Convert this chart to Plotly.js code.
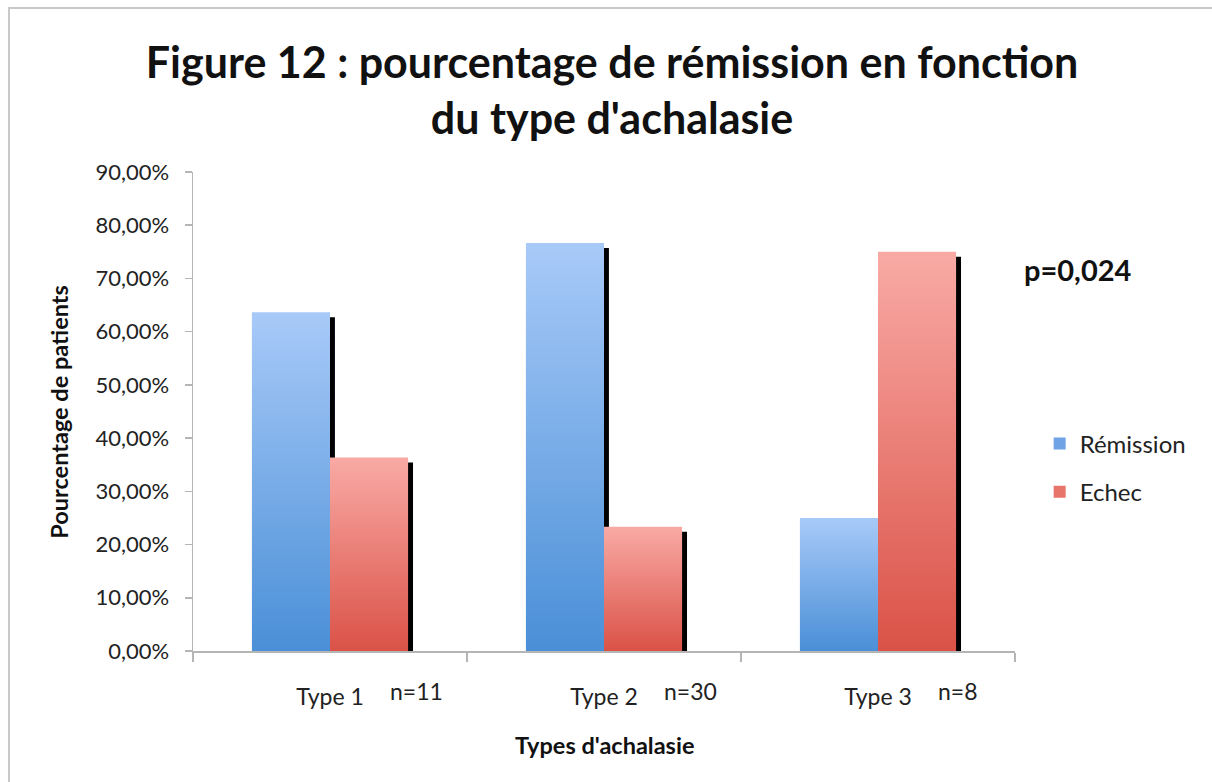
<!DOCTYPE html>
<html>
<head>
<meta charset="utf-8">
<script src="https://cdn.plot.ly/plotly-3.0.1.min.js"></script>
<style>
  html, body { margin: 0; padding: 0; background: #fff; }
  #wrap { position: relative; width: 1212px; height: 782px; overflow: hidden; }
  #chart { position: absolute; left: 0; top: 0; width: 1212px; height: 782px; }
  .bline { position: absolute; background: #c9c9c9; }
</style>
</head>
<body>
<div id="wrap">
  <div id="chart"></div>
  <div class="bline" style="left:8px; top:7px; width:1204px; height:2px;"></div>
  <div class="bline" style="left:8px; top:7px; width:2px; height:775px;"></div>
</div>
<script>
// ---- data ----
const categories = ["Type 1", "Type 2", "Type 3"];
const nLabels = ["n=11", "n=30", "n=8"];
const remission = [63.64, 76.67, 25.0];
const echec = [36.36, 23.33, 75.0];
const seriesNames = ["Rémission", "Echec"];
const yTickVals = [0, 10, 20, 30, 40, 50, 60, 70, 80, 90];
const yTickText = ["0,00%", "10,00%", "20,00%", "30,00%", "40,00%", "50,00%", "60,00%", "70,00%", "80,00%", "90,00%"];
const pValueText = "p=0,024";

// ---- style ----
const FONT = "Lato, 'Open Sans', sans-serif";
const BAR_W = 0.285;        // width of one bar in category units
const SH_DX = 0.018;        // shadow shift right (category units)
const SH_DY = 0.94;         // shadow shift down (percent units)

function shadow(vals, offset) {
  return {
    type: "bar", x: categories, y: vals, base: vals.map(() => -SH_DY),
    width: BAR_W, offset: offset + SH_DX,
    marker: { color: "#000000", line: { width: 0 } },
    showlegend: false, hoverinfo: "skip"
  };
}

const traces = [
  shadow(remission, -BAR_W),
  shadow(echec, 0),
  {
    type: "bar", name: seriesNames[0], x: categories, y: remission,
    width: BAR_W, offset: -BAR_W, legendgroup: "a",
    marker: { color: "#6fa3e6", line: { width: 0 } }
  },
  {
    type: "bar", name: seriesNames[1], x: categories, y: echec,
    width: BAR_W, offset: 0, legendgroup: "b",
    marker: { color: "#e8756c", line: { width: 0 } }
  }
];

const annotations = categories.map((c, i) => ({
  x: c, xref: "x", y: -0.084, yref: "paper",
  text: nLabels[i], showarrow: false, xanchor: "left", yanchor: "middle",
  xshift: 58, font: { family: FONT, size: 23, color: "#222" }
}));
annotations.push({
  x: 1.008, xref: "paper", y: 0.797, yref: "paper", text: "<b>" + pValueText + "</b>",
  showarrow: false, xanchor: "left", yanchor: "middle",
  font: { family: FONT, size: 29, color: "#111" }
});
annotations.push({
  x: -0.164, xref: "paper", y: 0.5, yref: "paper", text: "<b>Pourcentage de patients</b>",
  textangle: -90, showarrow: false, xanchor: "center", yanchor: "middle",
  font: { family: FONT, size: 23.5, color: "#111" }
});
annotations.push({
  x: 0.5, xref: "paper", y: -0.196, yref: "paper", text: "<b>Types d'achalasie</b>",
  showarrow: false, xanchor: "center", yanchor: "middle",
  font: { family: FONT, size: 23.5, color: "#111" }
});

const layout = {
  width: 1212, height: 782,
  margin: { l: 193, r: 197, t: 172, b: 131, pad: 0 },
  paper_bgcolor: "rgba(0,0,0,0)", plot_bgcolor: "rgba(0,0,0,0)",
  barmode: "overlay",
  title: {
    text: "<b>Figure 12 : pourcentage de rémission en fonction<br>du type d'achalasie</b>",
    x: 0.505, xref: "container", xanchor: "center",
    y: 1 - 78 / 782, yref: "container", yanchor: "top",
    font: { family: FONT, size: 43, color: "#111" }
  },
  xaxis: {
    type: "category", range: [-0.5, 2.5],
    showline: true, linecolor: "#b5b5b5", linewidth: 1.5,
    ticks: "outside", tickson: "boundaries", ticklen: 9, tickcolor: "#b5b5b5", tickwidth: 1.5,
    ticklabelstandoff: 25,
    tickfont: { family: FONT, size: 23, color: "#222" },
    showgrid: false, zeroline: false, fixedrange: true
  },
  yaxis: {
    range: [0, 90], tickvals: yTickVals, ticktext: yTickText,
    showline: true, linecolor: "#b5b5b5", linewidth: 1.5,
    ticks: "outside", ticklen: 7, tickcolor: "#b5b5b5", tickwidth: 1.5,
    ticklabelstandoff: 11,
    tickfont: { family: FONT, size: 22, color: "#222" },
    showgrid: false, zeroline: false, fixedrange: true
  },
  legend: {
    x: 1.03, xanchor: "left", y: 0.382, yanchor: "middle",
    font: { family: FONT, size: 24, color: "#222" },
    traceorder: "grouped", tracegroupgap: 14,
    bgcolor: "rgba(0,0,0,0)", itemwidth: 30
  },
  annotations: annotations,
  showlegend: true
};

function applyGradients(gd) {
  const svg = gd.querySelector("svg.main-svg");
  if (!svg) return;
  if (!svg.querySelector("#gradBlue")) {
    const ns = "http://www.w3.org/2000/svg";
    const defs = document.createElementNS(ns, "defs");
    const mk = (id, top, bot) => {
      const g = document.createElementNS(ns, "linearGradient");
      g.setAttribute("id", id);
      g.setAttribute("x1", "0"); g.setAttribute("y1", "0");
      g.setAttribute("x2", "0"); g.setAttribute("y2", "1");
      [[0, top], [1, bot]].forEach(([o, c]) => {
        const s = document.createElementNS(ns, "stop");
        s.setAttribute("offset", o); s.setAttribute("stop-color", c);
        g.appendChild(s);
      });
      defs.appendChild(g);
    };
    mk("gradBlue", "#a8caf8", "#4a8fd7");
    mk("gradRed", "#f9aaa5", "#da5247");
    svg.insertBefore(defs, svg.firstChild);
  }
  const groups = gd.querySelectorAll(".barlayer .trace");
  groups.forEach((t, i) => {
    const id = i === 2 ? "gradBlue" : i === 3 ? "gradRed" : null;
    if (!id) return;
    t.querySelectorAll("path").forEach(p => { p.style.fill = "url(#" + id + ")"; });
  });
}

const gd = document.getElementById("chart");
Plotly.newPlot(gd, traces, layout, { displayModeBar: false, staticPlot: true }).then(() => {
  applyGradients(gd);
  gd.on && gd.on("plotly_afterplot", () => applyGradients(gd));
});
</script>
</body>
</html>
